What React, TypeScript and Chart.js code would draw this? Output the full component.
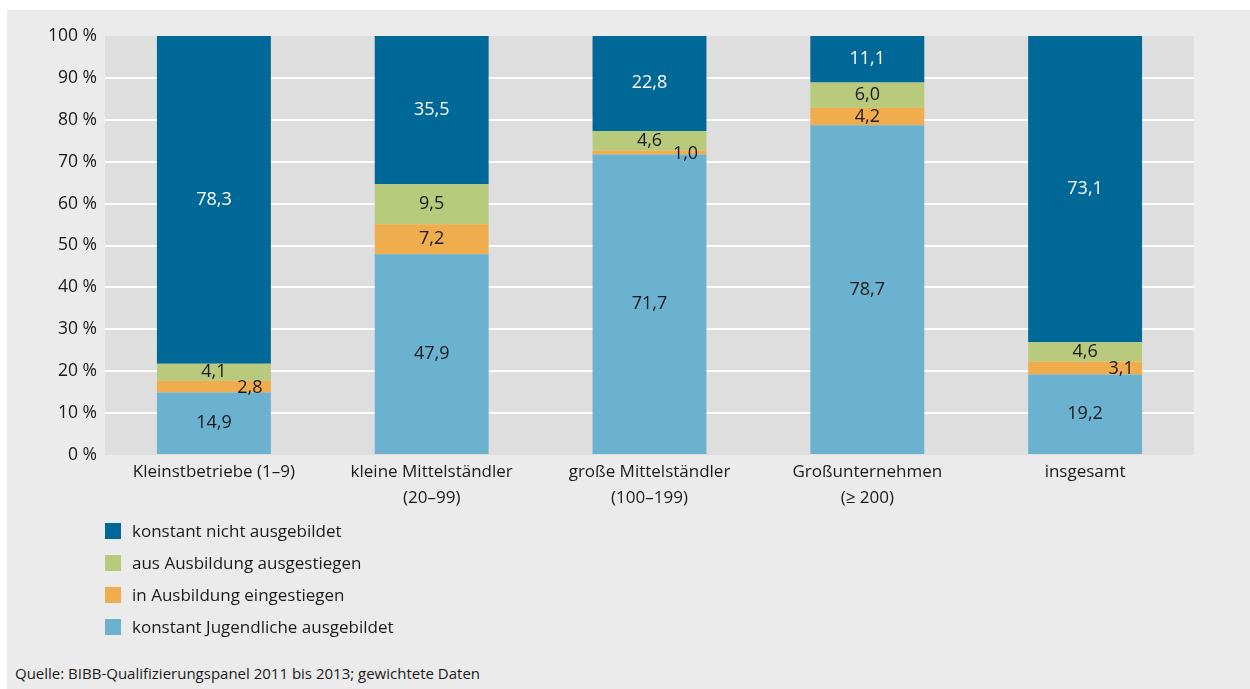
import React, { useEffect, useRef } from "react";
import { Chart, registerables } from "chart.js";

Chart.register(...registerables);

const categories: string[][] = [
  ["Kleinstbetriebe (1–9)"],
  ["kleine Mittelständler", "(20–99)"],
  ["große Mittelständler", "(100–199)"],
  ["Großunternehmen", "(≥ 200)"],
  ["insgesamt"],
];

const konstantJugendliche = [14.9, 47.9, 71.7, 78.7, 19.2];
const inAusbildungEingestiegen = [2.8, 7.2, 1.0, 4.2, 3.1];
const ausAusbildungAusgestiegen = [4.1, 9.5, 4.6, 6.0, 4.6];
const konstantNicht = [78.3, 35.5, 22.8, 11.1, 73.1];

const seriesLabels = [
  "konstant Jugendliche ausgebildet",
  "in Ausbildung eingestiegen",
  "aus Ausbildung ausgestiegen",
  "konstant nicht ausgebildet",
];
const seriesColors = ["#6bb2d0", "#f0ad4e", "#b8ca7c", "#006897"];
const labelColors = ["#1a1a1a", "#1a1a1a", "#1a1a1a", "#ffffff"];
const yTicks = [0, 10, 20, 30, 40, 50, 60, 70, 80, 90, 100];

const FONT = "'Open Sans', sans-serif";

const fmt = (v: number) => v.toFixed(1).replace(".", ",");

const bgPlugin = {
  id: "plotBg",
  beforeDraw(chart: any) {
    const { ctx, chartArea } = chart;
    ctx.save();
    ctx.fillStyle = "#dedede";
    ctx.fillRect(chartArea.left, chartArea.top, chartArea.right - chartArea.left, chartArea.bottom - chartArea.top);
    ctx.restore();
  },
};

const labelPlugin = {
  id: "segLabels",
  afterDatasetsDraw(chart: any) {
    const { ctx } = chart;
    ctx.save();
    ctx.font = `18px ${FONT}`;
    ctx.textAlign = "center";
    ctx.textBaseline = "middle";
    chart.data.datasets.forEach((ds: any, di: number) => {
      const meta = chart.getDatasetMeta(di);
      meta.data.forEach((el: any, i: number) => {
        const v = ds.data[i];
        const cy = (el.y + el.base) / 2;
        const dx = v < 3.5 ? 36 : 0;
        ctx.fillStyle = labelColors[di];
        ctx.fillText(fmt(v), el.x + dx, cy + (v < 3.5 ? 1 : 0));
      });
    });
    ctx.restore();
  },
};

export default function App() {
  const ref = useRef<HTMLCanvasElement>(null);

  useEffect(() => {
    document.body.style.margin = "0";
    const dataSets = [konstantJugendliche, inAusbildungEingestiegen, ausAusbildungAusgestiegen, konstantNicht];
    const chart = new Chart(ref.current!, {
      type: "bar",
      data: {
        labels: categories,
        datasets: dataSets.map((d, i) => ({
          label: seriesLabels[i],
          data: d,
          backgroundColor: seriesColors[i],
          borderWidth: 0,
          categoryPercentage: 1,
          barPercentage: 0.523,
        })),
      },
      options: {
        animation: false,
        responsive: false,
        maintainAspectRatio: false,
        layout: { padding: { top: 26, right: 56, left: 0, bottom: 0 } },
        plugins: { legend: { display: false }, tooltip: { enabled: false } },
        scales: {
          x: {
            stacked: true,
            grid: { display: false, drawTicks: false },
            border: { display: false },
            ticks: {
              color: "#1a1a1a",
              font: { family: FONT, size: 17, lineHeight: 1.53 },
              padding: 4,
              maxRotation: 0,
            },
            afterFit: (s: any) => {
              s.height = 65;
            },
          },
          y: {
            stacked: true,
            min: 0,
            max: 100,
            afterBuildTicks: (s: any) => {
              s.ticks = yTicks.map((v) => ({ value: v }));
            },
            grid: {
              color: (c: any) => (c.tick && (c.tick.value === 0 || c.tick.value === 100) ? "rgba(0,0,0,0)" : "#ffffff"),
              lineWidth: 2,
              drawTicks: false,
            },
            border: { display: false },
            ticks: {
              color: "#1a1a1a",
              font: { family: FONT, size: 17.5 },
              padding: 8,
              callback: (v: any) => `${v} %`,
            },
            afterFit: (s: any) => {
              s.width = 98;
            },
          },
        },
      },
      plugins: [bgPlugin, labelPlugin],
    });
    return () => chart.destroy();
  }, []);

  const legendOrder = [3, 2, 1, 0];

  return (
    <div style={{ position: "relative", width: 1250, height: 689, background: "#ffffff", overflow: "hidden" }}>
      <div
        style={{
          position: "absolute",
          left: 7,
          top: 10,
          width: 1243,
          height: 679,
          background: "#ebebeb",
          fontFamily: FONT,
          color: "#1a1a1a",
        }}
      >
        <canvas ref={ref} width={1243} height={510} style={{ position: "absolute", left: 0, top: 0, width: 1243, height: 510 }} />
        {legendOrder.map((si, row) => (
          <div
            key={si}
            style={{ position: "absolute", left: 98, top: 513 + row * 32, height: 16, display: "flex", alignItems: "center" }}
          >
            <div style={{ width: 16, height: 16, background: seriesColors[si] }} />
            <span style={{ marginLeft: 11, fontSize: 17, lineHeight: "16px", whiteSpace: "nowrap" }}>{seriesLabels[si]}</span>
          </div>
        ))}
        <div style={{ position: "absolute", left: 8, top: 653, fontSize: 15, whiteSpace: "nowrap" }}>
          Quelle: BIBB-Qualifizierungspanel 2011 bis 2013; gewichtete Daten
        </div>
      </div>
    </div>
  );
}
